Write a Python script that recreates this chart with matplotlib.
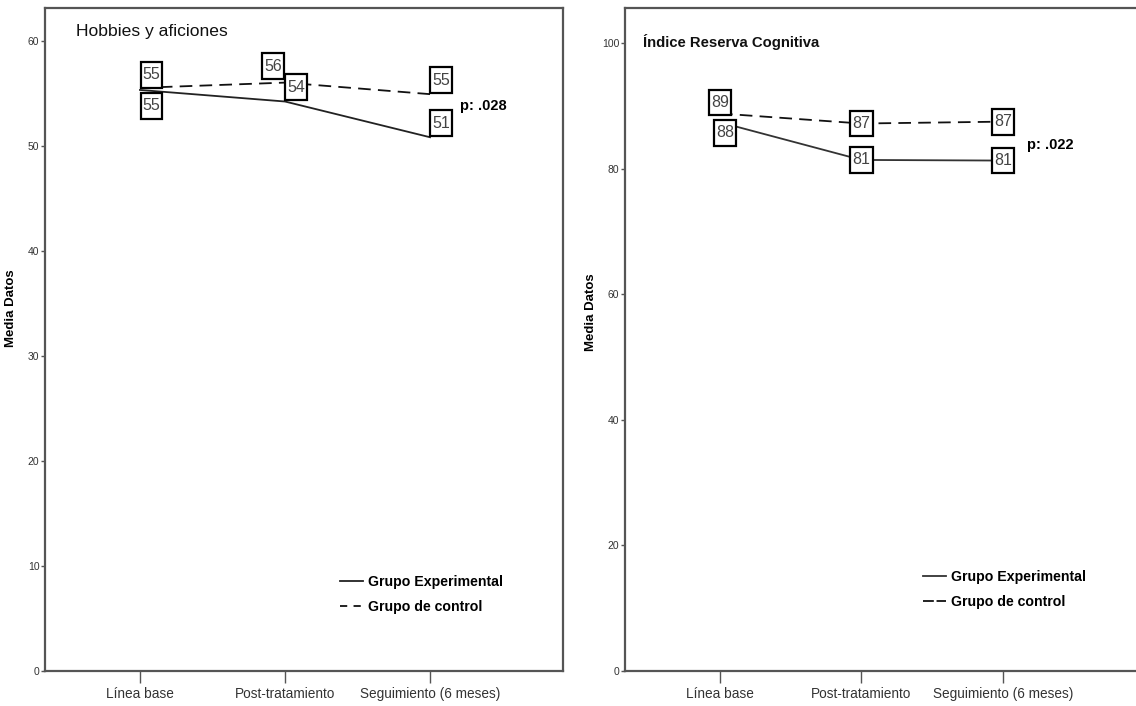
import matplotlib
matplotlib.use("Agg")
import matplotlib.pyplot as plt
from matplotlib.lines import Line2D
from matplotlib.path import Path
from matplotlib import font_manager

names = {f.name for f in font_manager.fontManager.ttflist}
NARROW = ['Liberation Sans Narrow', 'Liberation Sans', 'DejaVu Sans']
NARROW = [n for n in NARROW if n in names] or ['DejaVu Sans']
plt.rcParams['font.family'] = NARROW

categories = ["Línea base", "Post-tratamiento", "Seguimiento (6 meses)"]
series_names = ["Grupo Experimental", "Grupo de control"]

hobbies_exp = [55.3, 54.2, 50.8]
hobbies_ctl = [55.5, 56.0, 54.9]
hobbies_exp_lbl = ["55", "54", "51"]
hobbies_ctl_lbl = ["55", "56", "55"]
hobbies_p = "p: .028"

irc_exp = [87.4, 81.4, 81.3]
irc_ctl = [88.8, 87.2, 87.5]
irc_exp_lbl = ["88", "81", "81"]
irc_ctl_lbl = ["89", "87", "87"]
irc_p = "p: .022"

W, H = 1136, 706
fig = plt.figure(figsize=(W / 100, H / 100), dpi=100)

def px_box(x0, x1, ytop, ybot):
    return [x0 / W, 1 - ybot / H, (x1 - x0) / W, (ybot - ytop) / H]

ax1 = fig.add_axes(px_box(45, 563, 8, 671))
ax2 = fig.add_axes(px_box(625, 1141, 8, 671))

SP = '#555555'
EXP_C = '#222222'
CTL_C = '#111111'

def tallbox(x0, y0, width, height, mutation_size):
    padx = 0.13 * mutation_size
    pady = 0.34 * mutation_size
    x0 -= padx
    y0 -= pady
    w = width + 2 * padx
    h = height + 2 * pady
    return Path([(x0, y0), (x0 + w, y0), (x0 + w, y0 + h), (x0, y0 + h), (x0, y0)],
                closed=True)

def style(ax, ylim, yticks, xlim):
    ax.set_xlim(*xlim)
    ax.set_ylim(*ylim)
    ax.set_yticks(yticks)
    ax.set_xticks(range(len(categories)))
    ax.set_xticklabels(categories, fontsize=9.8, color='#333333')
    for lab in ax.get_yticklabels():
        lab.set_fontsize(7.5)
        lab.set_color('#333333')
    for s in ax.spines.values():
        s.set_color(SP)
        s.set_linewidth(1.6)
    ax.tick_params(axis='both', direction='out', width=1.0, color=SP)
    ax.tick_params(axis='x', length=8.6, pad=3)
    ax.tick_params(axis='y', length=3, pad=1)
    ax.set_ylabel("Media Datos", fontsize=9.5, fontweight='bold')

def boxlabel(ax, x, y, txt, dx, dy):
    ax.annotate(txt, (x, y), xytext=(dx, dy), textcoords='offset pixels',
                ha='center', va='center', fontsize=11.5, color='#444444',
                bbox=dict(boxstyle=tallbox, fc='white', ec='black', lw=1.6),
                zorder=5)

x = list(range(len(categories)))

# ---- Left panel
style(ax1, (0, 63.1), range(0, 61, 10), (-0.655, 2.917))
ax1.plot(x, hobbies_exp, color=EXP_C, lw=1.3, zorder=3)
ax1.plot(x, hobbies_ctl, color=CTL_C, lw=1.3, dashes=(7, 4), zorder=3)
offs_exp = [(11.5, -16), (11, 14.5), (11, 14)]
offs_ctl = [(11.5, 13), (-12, 16.5), (11, 14)]
for i in x:
    boxlabel(ax1, i, hobbies_ctl[i], hobbies_ctl_lbl[i], *offs_ctl[i])
    boxlabel(ax1, i, hobbies_exp[i], hobbies_exp_lbl[i], *offs_exp[i])
ax1.text(0.06, 0.964, "Hobbies y aficiones", transform=ax1.transAxes,
         fontsize=12.6, ha='left', va='center', color='#111111')
ax1.text(0.801, 0.852, hobbies_p, transform=ax1.transAxes, fontsize=10.5,
         fontweight='bold', ha='left', va='center')
ax1.yaxis.set_label_coords(-0.054, 0.5475)

# ---- Right panel
style(ax2, (0, 105.6), range(0, 101, 20), (-0.671, 2.975))
ax2.plot(x, irc_exp, color='#333333', lw=1.3, zorder=3)
ax2.plot(x, irc_ctl, color=CTL_C, lw=1.3, dashes=(7, 4), zorder=3)
offs2_exp = [(5, -10.5), (0, 0), (0, 0)]
offs2_ctl = [(0, 11), (0, 0), (0, 0)]
for i in x:
    boxlabel(ax2, i, irc_ctl[i], irc_ctl_lbl[i], *offs2_ctl[i])
    boxlabel(ax2, i, irc_exp[i], irc_exp_lbl[i], *offs2_exp[i])
ax2.text(0.035, 0.949, "Índice Reserva Cognitiva", transform=ax2.transAxes,
         fontsize=10.7, fontweight='bold', ha='left', va='center', color='#111111')
ax2.text(0.779, 0.793, irc_p, transform=ax2.transAxes, fontsize=10.5,
         fontweight='bold', ha='left', va='center')
ax2.yaxis.set_label_coords(-0.054, 0.541)

# ---- Legends
def legend(ax, xa, ya, exp_color, ctl_dash):
    handles = [Line2D([], [], color=exp_color, lw=1.3),
               Line2D([], [], color=CTL_C, lw=1.3, dashes=ctl_dash)]
    leg = ax.legend(handles, series_names, loc='upper left', bbox_to_anchor=(xa, ya),
                    frameon=False, borderpad=0, borderaxespad=0, handlelength=1.6,
                    handletextpad=0.35, labelspacing=0.75,
                    prop=dict(size=10.2, weight='bold'))
    return leg

legend(ax1, 0.5695, 0.1445, EXP_C, (4, 3.5))
legend(ax2, 0.5775, 0.152, '#333333', (6, 1.5))

fig.savefig("out.png", dpi=100)
